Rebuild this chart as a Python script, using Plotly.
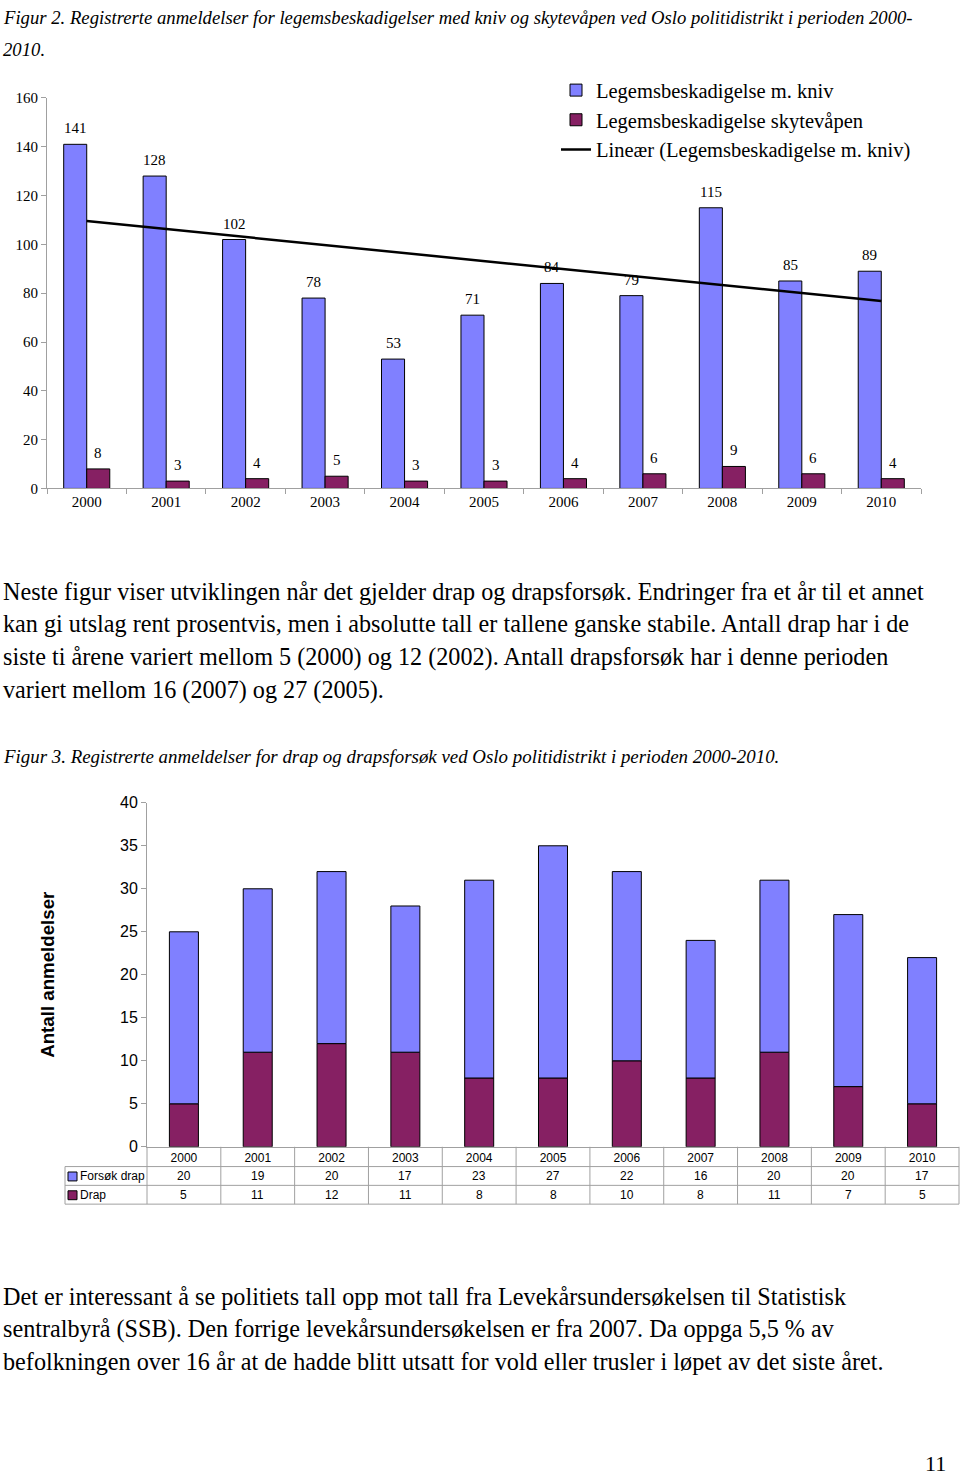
import numpy as np
import plotly.graph_objects as go

# ---------------- data ----------------
years = ["2000", "2001", "2002", "2003", "2004", "2005", "2006", "2007", "2008", "2009", "2010"]
kniv = [141, 128, 102, 78, 53, 71, 84, 79, 115, 85, 89]          # Legemsbeskadigelse m. kniv
skytevapen = [8, 3, 4, 5, 3, 3, 4, 6, 9, 6, 4]                      # Legemsbeskadigelse skytevåpen
forsok_drap = [20, 19, 20, 17, 23, 27, 22, 16, 20, 20, 17]          # Forsøk drap
drap = [5, 11, 12, 11, 8, 8, 10, 8, 11, 7, 5]                       # Drap

name_kniv = "Legemsbeskadigelse m. kniv"
name_skyt = "Legemsbeskadigelse skytevåpen"
name_trend = "Lineær (Legemsbeskadigelse m. kniv)"

caption1 = ["Figur 2. Registrerte anmeldelser for legemsbeskadigelser med kniv og skytevåpen ved Oslo politidistrikt i perioden 2000-",
            "2010."]
body1 = ["Neste figur viser utviklingen når det gjelder drap og drapsforsøk. Endringer fra et år til et annet",
         "kan gi utslag rent prosentvis, men i absolutte tall er tallene ganske stabile. Antall drap har i de",
         "siste ti årene variert mellom 5 (2000) og 12 (2002). Antall drapsforsøk har i denne perioden",
         "variert mellom 16 (2007) og 27 (2005)."]
caption2 = ["Figur 3. Registrerte anmeldelser for drap og drapsforsøk ved Oslo politidistrikt i perioden 2000-2010."]
body2 = ["Det er interessant å se politiets tall opp mot tall fra Levekårsundersøkelsen til Statistisk",
         "sentralbyrå (SSB). Den forrige levekårsundersøkelsen er fra 2007. Da oppga 5,5 % av",
         "befolkningen over 16 år at de hadde blitt utsatt for vold eller trusler i løpet av det siste året."]
page_number = "11"

# ---------------- styling ----------------
W, H = 960, 1484
BLUE = "#8080FF"
PURPLE = "#862063"
AXIS_GRAY = "#A0A0A0"
SERIF = "Liberation Serif"
SANS = "Liberation Sans"


def py(px):
    return 1 - px / H


def px_x(px):
    return px / W


fig = go.Figure()
n = len(years)
idx = np.arange(n)

# ---------------- chart 1 ----------------
bw1 = 0.29
fig.add_trace(go.Bar(x=years, y=kniv, name=name_kniv, marker=dict(color=BLUE, line=dict(color="black", width=1)),
                     offset=-bw1, width=bw1, xaxis="x", yaxis="y"))
fig.add_trace(go.Bar(x=years, y=skytevapen, name=name_skyt, marker=dict(color=PURPLE, line=dict(color="black", width=1)),
                     offset=0, width=bw1, xaxis="x", yaxis="y"))
slope, intercept = np.polyfit(idx, np.array(kniv, dtype=float), 1)
trend = intercept + slope * idx
fig.add_trace(go.Scatter(x=years, y=trend, mode="lines", name=name_trend, line=dict(color="black", width=2.5),
                         xaxis="x", yaxis="y"))

annotations = []
for i, v in enumerate(kniv):
    annotations.append(dict(x=i, y=v, xref="x", yref="y", text=str(v), showarrow=False, xshift=-11.5, yshift=16,
                            yanchor="middle", font=dict(family=SERIF, size=15, color="black")))
for i, v in enumerate(skytevapen):
    annotations.append(dict(x=i, y=v, xref="x", yref="y", text=str(v), showarrow=False, xshift=11.5, yshift=16,
                            yanchor="middle", font=dict(family=SERIF, size=15, color="black")))

# ---------------- chart 2 ----------------
bw2 = 0.393
fig.add_trace(go.Bar(x=years, y=drap, name="Drap", marker=dict(color=PURPLE, line=dict(color="black", width=1)),
                     offset=-bw2 / 2, width=bw2, xaxis="x2", yaxis="y2", showlegend=False))
fig.add_trace(go.Bar(x=years, y=forsok_drap, base=drap, name="Forsøk drap",
                     marker=dict(color=BLUE, line=dict(color="black", width=1)),
                     offset=-bw2 / 2, width=bw2, xaxis="x2", yaxis="y2", showlegend=False))

# data table under chart 2
row_y = {"forsok": py(1182), "drap": py(1201)}
for i, v in enumerate(forsok_drap):
    annotations.append(dict(x=i, y=row_y["forsok"], xref="x2", yref="paper", text=str(v), showarrow=False,
                            yanchor="middle", font=dict(family=SANS, size=12, color="black")))
for i, v in enumerate(drap):
    annotations.append(dict(x=i, y=row_y["drap"], xref="x2", yref="paper", text=str(v), showarrow=False,
                            yanchor="middle", font=dict(family=SANS, size=12, color="black")))
annotations.append(dict(x=px_x(78), y=row_y["forsok"], xref="paper", yref="paper", text="Forsøk drap", showarrow=False,
                        xanchor="left", yanchor="middle", font=dict(family=SANS, size=12, color="black")))
annotations.append(dict(x=px_x(78), y=row_y["drap"], xref="paper", yref="paper", text="Drap", showarrow=False,
                        xanchor="left", yanchor="middle", font=dict(family=SANS, size=12, color="black")))
annotations.append(dict(x=px_x(48), y=py(978), xref="paper", yref="paper", text="<b>Antall anmeldelser</b>",
                        showarrow=False, textangle=-90, xanchor="center", yanchor="middle",
                        font=dict(family=SANS, size=18.7, color="black")))

shapes = []
grid = dict(color=AXIS_GRAY, width=1)
for i in range(n + 1):
    shapes.append(dict(type="line", xref="x2 domain", yref="paper", x0=i / n, x1=i / n, y0=py(1152), y1=py(1210),
                       line=grid))
for ypx in (1172, 1191, 1210):
    shapes.append(dict(type="line", xref="paper", yref="paper", x0=px_x(65), x1=px_x(959), y0=py(ypx), y1=py(ypx),
                       line=grid))
shapes.append(dict(type="line", xref="paper", yref="paper", x0=px_x(65), x1=px_x(65), y0=py(1172), y1=py(1210),
                   line=grid))
# legend swatches in the table
for color, ypx in ((BLUE, 1182), (PURPLE, 1201)):
    shapes.append(dict(type="rect", xref="paper", yref="paper", x0=px_x(68), x1=px_x(77), y0=py(ypx + 4.5),
                       y1=py(ypx - 4.5), fillcolor=color, line=dict(color="black", width=1)))


# ---------------- page text ----------------
def text_line(txt, ypx, size, italic=False, x=1):
    t = f"<i>{txt}</i>" if italic else txt
    return dict(x=px_x(x), y=py(ypx), xref="paper", yref="paper", text=t, showarrow=False, xanchor="left",
                yanchor="middle", font=dict(family=SERIF, size=size, color="black"))


for txt, ypx in zip(caption1, (10, 42)):
    annotations.append(text_line(txt, ypx, 18.7, italic=True))
for txt, ypx in zip(body1, (590, 623, 657, 690)):
    annotations.append(text_line(txt, ypx, 24.2))
for txt, ypx in zip(caption2, (757,)):
    annotations.append(text_line(txt, ypx, 18.9, italic=True))
for txt, ypx in zip(body2, (1303, 1336, 1369)):
    annotations.append(text_line(txt, ypx, 24.2))
annotations.append(dict(x=px_x(935), y=py(1472), xref="paper", yref="paper", text=page_number, showarrow=False,
                        xanchor="center", yanchor="middle", font=dict(family=SERIF, size=22, color="black")))

fig.update_layout(
    width=W, height=H,
    margin=dict(l=0, r=0, t=0, b=0),
    paper_bgcolor="white", plot_bgcolor="white",
    barmode="overlay",
    showlegend=True,
    legend=dict(x=px_x(556), y=py(63), xanchor="left", yanchor="top", bgcolor="rgba(0,0,0,0)",
                font=dict(family=SERIF, size=20.5, color="black"), tracegroupgap=0),
    xaxis=dict(domain=[px_x(47), px_x(921)], anchor="y", type="category", range=[-0.5, n - 0.5],
               showline=True, linecolor=AXIS_GRAY, linewidth=1, ticks="outside", tickson="boundaries",
               ticklen=5, tickcolor=AXIS_GRAY, showgrid=False, zeroline=False,
               tickfont=dict(family=SERIF, size=15, color="black")),
    yaxis=dict(domain=[py(486), py(91)], anchor="x", range=[0, 160], dtick=20, showline=True, linecolor=AXIS_GRAY,
               ticks="outside", ticklen=5, tickcolor=AXIS_GRAY, showgrid=False, zeroline=False,
               tickfont=dict(family=SERIF, size=15, color="black")),
    xaxis2=dict(domain=[px_x(147), px_x(959)], anchor="y2", type="category", range=[-0.5, n - 0.5],
                showline=True, linecolor=AXIS_GRAY, linewidth=1, ticks="", showgrid=False, zeroline=False,
                tickfont=dict(family=SANS, size=12, color="black")),
    yaxis2=dict(domain=[py(1152), py(804)], anchor="x2", range=[0, 40], dtick=5, showline=True, linecolor=AXIS_GRAY,
                ticks="outside", ticklen=5, tickcolor=AXIS_GRAY, showgrid=False, zeroline=False,
                tickfont=dict(family=SANS, size=16, color="black")),
    annotations=annotations,
    shapes=shapes,
)

POST = ("document.documentElement.style.margin='0';document.documentElement.style.overflow='hidden';"
        "document.body.style.margin='0';document.body.style.overflow='hidden';"
        "var d=document.getElementById('{plot_id}');d.style.position='fixed';d.style.left='0px';d.style.top='0px';")
fig.write_html("out.html", config={"displayModeBar": False}, post_script=POST)
